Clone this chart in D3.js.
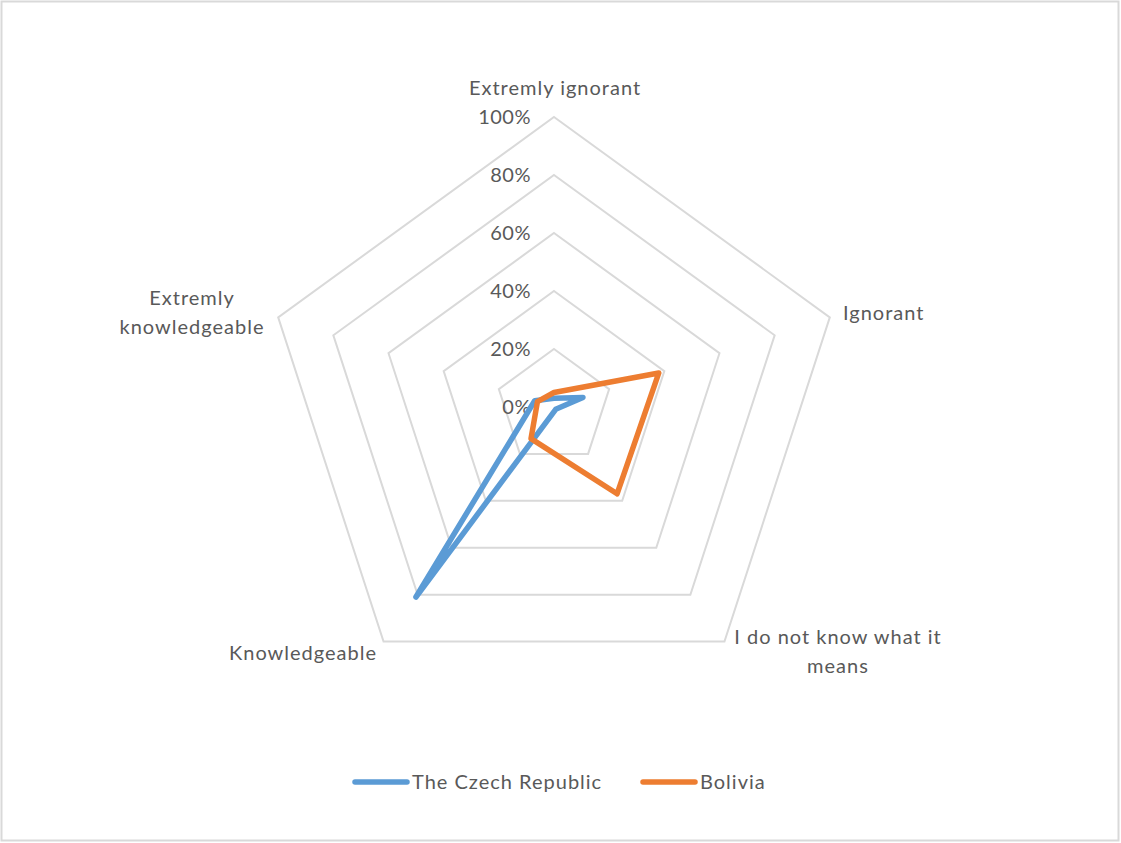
<!DOCTYPE html>
<html><head><meta charset="utf-8">
<script src="https://cdn.jsdelivr.net/npm/d3@7"></script>
<style>
html,body{margin:0;padding:0;background:#fff;}
text{font-family:Lato,"Open Sans",sans-serif;fill:#595959;}
</style></head>
<body>
<svg id="chart" width="1121" height="843"></svg>
<script>
const categories = ["Extremly ignorant","Ignorant","I do not know what it means","Knowledgeable","Extremly knowledgeable"];
const categoryLines = [["Extremly ignorant"],["Ignorant"],["I do not know what it","means"],["Knowledgeable"],["Extremly","knowledgeable"]];
const czechValues = [0.03, 0.105, 0.01, 0.81, 0.07];
const boliviaValues = [0.05, 0.38, 0.37, 0.135, 0.06];
const tickValues = [0, 0.2, 0.4, 0.6, 0.8, 1.0];
const seriesNames = ["The Czech Republic","Bolivia"];
const seriesColors = ["#5b9bd5","#ed7d31"];

const svg = d3.select("#chart");
svg.append("rect").attr("x",1.5).attr("y",1.5).attr("width",1117).attr("height",839)
  .attr("fill","#fff").attr("stroke","#d9d9d9").attr("stroke-width",2);

const cx = 554, cy = 407;
const r = d3.scaleLinear().domain([0,1]).range([0,290]);
const angle = d3.scaleLinear().domain([0,categories.length]).range([0,2*Math.PI]);
const pt = (i,v) => [cx + r(v)*Math.sin(angle(i)), cy - r(v)*Math.cos(angle(i))];

const FS = 20, LS = "1px";
const g = svg.append("g");
tickValues.filter(t=>t>0).forEach(t=>{
  g.append("path")
   .attr("d", d3.line()(categories.map((c,i)=>pt(i,t))) + "Z")
   .attr("fill","none").attr("stroke","#d9d9d9").attr("stroke-width",2);
});
const fmt = d3.format(".0%");
g.selectAll("text.tick").data(tickValues).enter().append("text")
  .attr("class","tick")
  .attr("x", cx-23).attr("y", d=>cy - r(d))
  .attr("dy","0.35em").attr("text-anchor","end")
  .attr("font-size",FS).attr("letter-spacing","0.5px").text(d=>fmt(d));

const lineGen = d3.line().curve(d3.curveLinearClosed);
[czechValues, boliviaValues].forEach((vals,k)=>{
  g.append("path")
   .attr("d", lineGen(vals.map((v,i)=>pt(i,v))))
   .attr("fill","none").attr("stroke",seriesColors[k]).attr("stroke-width",5.5)
   .attr("stroke-linejoin","round");
});

const labelPos = [
  {x:555, y:88, anchor:"middle"},
  {x:843, y:313, anchor:"start"},
  {x:838, y:637, anchor:"middle"},
  {x:377, y:653, anchor:"end"},
  {x:192, y:298, anchor:"middle"}
];
categoryLines.forEach((lines,i)=>{
  const p = labelPos[i];
  const t = g.append("text").attr("x",p.x).attr("y",p.y).attr("text-anchor",p.anchor)
    .attr("font-size",FS).attr("letter-spacing",LS);
  lines.forEach((ln,j)=>{
    t.append("tspan").attr("x",p.x).attr("dy", j===0?"0.35em":"29px").text(ln);
  });
});

const legendX = [353, 641];
seriesNames.forEach((n,k)=>{
  const lg = svg.append("g");
  lg.append("line").attr("x1",legendX[k]+2).attr("x2",legendX[k]+54).attr("y1",782).attr("y2",782)
    .attr("stroke",seriesColors[k]).attr("stroke-width",5.5).attr("stroke-linecap","round");
  lg.append("text").attr("x",legendX[k]+59).attr("y",782).attr("dy","0.35em")
    .attr("font-size",FS).attr("letter-spacing",LS).text(n);
});
</script>
</body></html>
